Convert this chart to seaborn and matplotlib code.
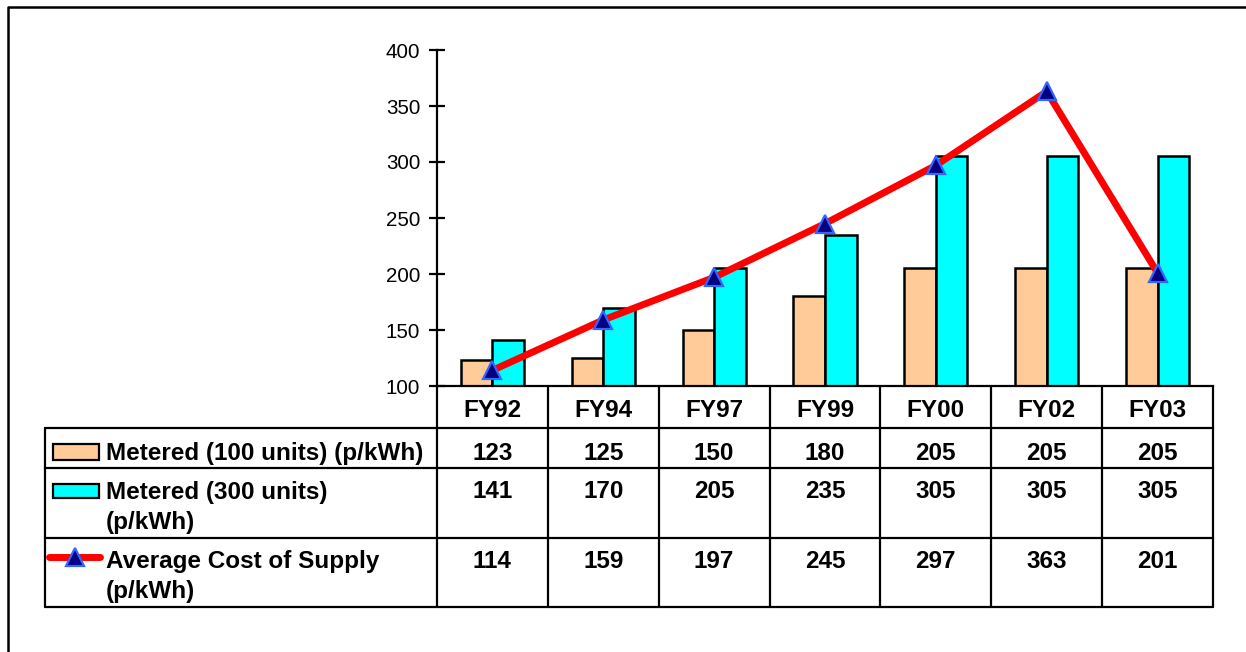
import numpy as np
import pandas as pd
import matplotlib
matplotlib.use("Agg")
import matplotlib.pyplot as plt
import matplotlib.transforms as mtransforms
from matplotlib.lines import Line2D
from matplotlib.patches import Rectangle
import seaborn as sns

# ---- data -------------------------------------------------------------
years = ["FY92", "FY94", "FY97", "FY99", "FY00", "FY02", "FY03"]
metered_100 = [123, 125, 150, 180, 205, 205, 205]
metered_300 = [141, 170, 205, 235, 305, 305, 305]
avg_cost = [114, 159, 197, 245, 297, 363, 201]
series_labels = [
    "Metered (100 units) (p/kWh)",
    "Metered (300 units)\n(p/kWh)",
    "Average Cost of Supply\n(p/kWh)",
]
y_ticks = [100, 150, 200, 250, 300, 350, 400]

# ---- style ------------------------------------------------------------
sns.set_style("white")
plt.rcParams["font.family"] = ["Liberation Sans", "DejaVu Sans"]

PEACH = "#FFCC99"
CYAN = "#00FFFF"
RED = "#FF0000"
NAVY = "#000080"
BLUE_EDGE = "#3366FF"

W, H = 1246, 652
fig = plt.figure(figsize=(W / 100, H / 100), dpi=100)


def fx(px):
    return px / W


def fy(py):
    return 1 - py / H


# plot area
ax_left, ax_right, ax_top, ax_bottom = 437, 1213, 50, 386
ax = fig.add_axes([fx(ax_left), fy(ax_bottom), fx(ax_right - ax_left),
                   (ax_bottom - ax_top) / H])

df = pd.DataFrame({
    "year": years * 2,
    "value": metered_100 + metered_300,
    "series": [series_labels[0]] * len(years) + [series_labels[1]] * len(years),
})

sns.barplot(data=df, x="year", y="value", hue="series",
            palette=[PEACH, CYAN], saturation=1, width=0.57,
            edgecolor="black", linewidth=1.8, legend=False, ax=ax, zorder=2)

sns.lineplot(x=np.arange(len(years)), y=avg_cost, color=RED, linewidth=5,
             marker="^", markersize=13, markerfacecolor=NAVY,
             markeredgecolor=BLUE_EDGE, markeredgewidth=1.6,
             ax=ax, zorder=5, clip_on=False)

ax.set_xlim(-0.5, len(years) - 0.5)
ax.set_ylim(100, 400)
ax.set_yticks(y_ticks)
ax.set_xticks([])
ax.set_xlabel("")
ax.set_ylabel("")
for side in ("top", "right"):
    ax.spines[side].set_visible(False)
for side in ("left", "bottom"):
    ax.spines[side].set_color("black")
    ax.spines[side].set_linewidth(1.6)
ax.tick_params(axis="y", left=True, direction="inout", length=12, width=1.6,
               labelsize=14.8, pad=6, colors="black")

# ---- data table -------------------------------------------------------
LW = 1.6
tbl_left = 45
row_lines = [428, 468, 538, 607]
tbl_bottom = row_lines[-1]

blend = mtransforms.blended_transform_factory(ax.transData, fig.transFigure)

# vertical column separators under the plot
for i in range(len(years) + 1):
    xd = i - 0.5
    fig.add_artist(Line2D([xd, xd], [fy(ax_bottom), fy(tbl_bottom)],
                          transform=blend, color="black", lw=LW))
# left edge of the label column
fig.add_artist(Line2D([fx(tbl_left), fx(tbl_left)],
                      [fy(row_lines[0]), fy(tbl_bottom)],
                      transform=fig.transFigure, color="black", lw=LW))
# horizontal row lines
for ry in row_lines:
    fig.add_artist(Line2D([fx(tbl_left), fx(ax_right)], [fy(ry), fy(ry)],
                          transform=fig.transFigure, color="black", lw=LW))

TXT = dict(fontsize=17.5, fontweight="bold", color="black")

# category header
for i, yr in enumerate(years):
    fig.text(i, fy(417), yr, transform=blend, ha="center", va="baseline", **TXT)

# values
value_rows = [metered_100, metered_300, avg_cost]
value_baselines = [460, 498, 568]
for vals, base in zip(value_rows, value_baselines):
    for i, v in enumerate(vals):
        fig.text(i, fy(base), f"{v}", transform=blend, ha="center",
                 va="baseline", **TXT)

# row labels (multi-line labels drawn line by line)
label_x = 106
label_baselines = [460, 499, 568]
for lab, base in zip(series_labels, label_baselines):
    for k, line in enumerate(lab.split("\n")):
        fig.text(fx(label_x), fy(base + 30 * k), line, ha="left",
                 va="baseline", **TXT)

# legend keys
fig.add_artist(Rectangle((fx(53), fy(460)), fx(46), 16 / H,
                         transform=fig.transFigure, facecolor=PEACH,
                         edgecolor="black", lw=1.6))
fig.add_artist(Rectangle((fx(53), fy(498)), fx(46), 14 / H,
                         transform=fig.transFigure, facecolor=CYAN,
                         edgecolor="black", lw=1.6))
fig.add_artist(Line2D([fx(49), fx(100)], [fy(557), fy(557)],
                      transform=fig.transFigure, color=RED, lw=5,
                      solid_capstyle="round"))
fig.add_artist(Line2D([fx(75)], [fy(557)], transform=fig.transFigure,
                      marker="^", markersize=13, markerfacecolor=NAVY,
                      markeredgecolor=BLUE_EDGE, markeredgewidth=1.6,
                      linestyle="none"))

# outer frame (left and top edges)
fig.add_artist(Line2D([fx(8), fx(8), 1.0], [0.0, fy(7), fy(7)],
                      transform=fig.transFigure, color="black", lw=1.8))

fig.savefig("out.png", dpi=100)
